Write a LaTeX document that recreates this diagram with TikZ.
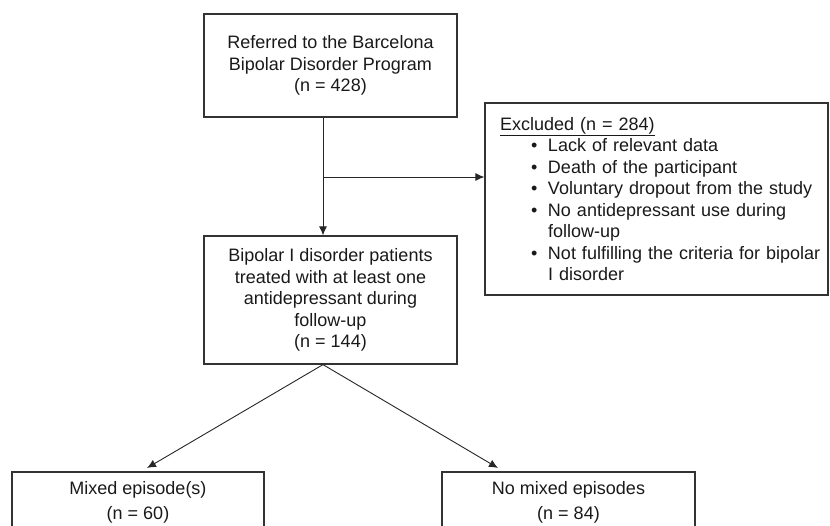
\documentclass[tikz,border=0pt]{standalone}
\usepackage{fontspec}
\setmainfont{Liberation Sans}
\usetikzlibrary{arrows.meta}
\newcommand{\exhead}{\hspace*{15pt}}
\newcommand{\exbullet}{\hspace*{46pt}\makebox[17pt][l]{\textbullet}}
\newcommand{\exindent}{\hspace*{63pt}}
\tikzset{
    box/.style={draw=black!80, line width=1.2pt, rectangle, align=center, text=black!90,
        font=\fontsize{18}{21.5}\selectfont, inner sep=0pt},
    exbox/.style={box, align=left, text width=343pt, inner xsep=0pt},
    link/.style={draw=black!85, line width=0.9pt},
    arr/.style={link, -{Latex[length=9pt,width=8pt]}}
}
\begin{document}
\begin{tikzpicture}[x=1pt,y=1pt]
    \useasboundingbox (0,0) rectangle (830,-525); % page size of the figure
    \clip (0,0) rectangle (830,-525);
    % the boxes
    \node[box, minimum width=253pt, minimum height=103pt] (referred) at (330.5,-65.5)
        {Referred to the Barcelona\\Bipolar Disorder Program\\(n = 428)};
    \node[box, minimum width=253pt, minimum height=128pt] (treated) at (330.5,-300)
        {Bipolar I disorder patients\\treated with at least one\\antidepressant during\\follow-up\\(n = 144)};
    \node[exbox, minimum height=192pt] (excluded) at (656.5,-199)
        {\exhead\underline{Excluded (n = 284)}\\
         \exbullet Lack of relevant data\\
         \exbullet Death of the participant\\
         \exbullet Voluntary dropout from the study\\
         \exbullet No antidepressant use during\\
         \exindent follow-up\\
         \exbullet Not fulfilling the criteria for bipolar\\
         \exindent I disorder};
    \node[box, font=\fontsize{18}{25}\selectfont, minimum width=252pt, minimum height=61pt] (mixed) at (138,-502.5)
        {Mixed episode(s)\\(n = 60)};
    \node[box, font=\fontsize{18}{25}\selectfont, minimum width=253pt, minimum height=61pt] (nomixed) at (568.5,-502.5)
        {No mixed episodes\\(n = 84)};
    % the connectors
    \coordinate (split) at (323,-177);
    \coordinate (fork) at (treated.south -| split);
    \coordinate (tipL) at (147,-468);
    \coordinate (tipR) at (498,-468);
    \draw[arr] (referred.south -| split) -- (treated.north -| split);
    \draw[arr] (split) -- (split -| excluded.west);
    \draw[arr] (fork) -- (tipL);
    \draw[arr] (fork) -- (tipR);
\end{tikzpicture}
\end{document}
